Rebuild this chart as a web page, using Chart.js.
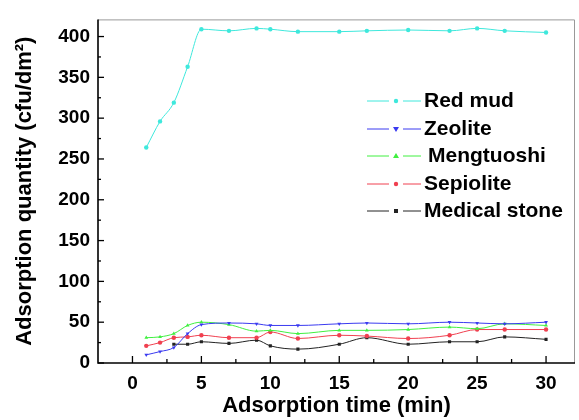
<!DOCTYPE html>
<html>
<head>
<meta charset="utf-8">
<script src="https://cdn.jsdelivr.net/npm/chart.js@4"></script>
<style>
  html, body { margin: 0; padding: 0; background: #fff; }
  #wrap { width: 579px; height: 420px; }
</style>
</head>
<body>
<div id="wrap"><canvas id="chart" width="579" height="420"></canvas></div>
<script>
// adsorption time (min)
const times = [1, 2, 3, 4, 5, 7, 9, 10, 12, 15, 17, 20, 23, 25, 27, 30];
const blackTimes = [3, 4, 5, 7, 9, 10, 12, 15, 17, 20, 23, 25, 27, 30];

const redMud = [264, 296, 319, 363, 409, 407, 410, 409, 406, 406, 407, 408, 407, 410, 407, 405];
const zeolite = [10, 14, 19, 36, 47, 49, 48, 46, 46, 48, 49, 48, 50, 49, 48, 50];
const mengtuoshi = [31, 32, 36, 46, 50, 47, 39, 40, 36, 40, 40, 41, 44, 42, 48, 46];
const sepiolite = [21, 25, 31, 32, 34, 31, 31, 38, 30, 34, 33, 30, 34, 41, 41, 41];
const medicalStone = [23, 23, 26, 24, 28, 21, 17, 23, 31, 23, 26, 26, 32, 29];

const xTicks = [0, 5, 10, 15, 20, 25, 30];
const yTicks = [0, 50, 100, 150, 200, 250, 300, 350, 400];

const names = ['Red mud', 'Zeolite', 'Mengtuoshi', 'Sepiolite', 'Medical stone'];
const colors = ['#3ee8dc', '#3a3af0', '#40f040', '#f04050', '#222222'];
const markers = ['circle', 'triangle', 'triangle', 'circle', 'rect'];

const toPts = (xs, ys) => xs.map((x, i) => ({ x: x, y: ys[i] }));
const seriesData = [
  toPts(times, redMud),
  toPts(times, zeolite),
  toPts(times, mengtuoshi),
  toPts(times, sepiolite),
  toPts(blackTimes, medicalStone),
];

const FONT = 'Liberation Sans, Arial, sans-serif';

// tick marks, frame and legend drawn by hand, like the original plot
const decor = {
  id: 'decor',
  afterDraw(chart) {
    const ctx = chart.ctx;
    const a = chart.chartArea;
    const xs = chart.scales.x, ys = chart.scales.y;
    ctx.save();
    ctx.strokeStyle = '#999';
    ctx.lineWidth = 1;
    ctx.beginPath();
    ctx.moveTo(a.left, a.top + 0.5);
    ctx.lineTo(a.right - 0.5, a.top + 0.5);
    ctx.lineTo(a.right - 0.5, a.bottom);
    ctx.stroke();
    ctx.strokeStyle = '#000';
    ctx.lineWidth = 1.6;
    ctx.beginPath();
    ctx.moveTo(a.left, a.top);
    ctx.lineTo(a.left, a.bottom);
    ctx.lineTo(a.right, a.bottom);
    ctx.stroke();
    // x ticks point up into the plot
    ctx.lineWidth = 1.3;
    for (let v = 0; v <= 30; v += 2.5) {
      const px = xs.getPixelForValue(v);
      const len = v % 5 === 0 ? 7 : 4;
      ctx.beginPath();
      ctx.moveTo(px, a.bottom);
      ctx.lineTo(px, a.bottom - len);
      ctx.stroke();
    }
    for (let v = 0; v <= 400; v += 25) {
      const py = ys.getPixelForValue(v);
      const len = v % 50 === 0 ? 6 : 3;
      ctx.beginPath();
      ctx.moveTo(a.left, py);
      ctx.lineTo(a.left + len, py);
      ctx.stroke();
    }
    // legend
    const ly = [101, 129, 156, 184, 211];
    ctx.font = 'bold 21px ' + FONT;
    ctx.textBaseline = 'middle';
    names.forEach((n, i) => {
      ctx.strokeStyle = colors[i];
      ctx.lineWidth = 1;
      ctx.beginPath();
      ctx.moveTo(367, ly[i]); ctx.lineTo(389, ly[i]);
      ctx.moveTo(403, ly[i]); ctx.lineTo(421, ly[i]);
      ctx.stroke();
      ctx.fillStyle = colors[i];
      ctx.beginPath();
      if (markers[i] === 'rect') {
        ctx.rect(394, ly[i] - 2, 4, 4);
      } else if (markers[i] === 'triangle') {
        if (i === 1) { ctx.moveTo(393, ly[i] - 2); ctx.lineTo(399, ly[i] - 2); ctx.lineTo(396, ly[i] + 3); }
        else { ctx.moveTo(393, ly[i] + 2); ctx.lineTo(399, ly[i] + 2); ctx.lineTo(396, ly[i] - 3); }
      } else {
        ctx.arc(396, ly[i], 2.2, 0, Math.PI * 2);
      }
      ctx.fill();
      ctx.fillStyle = '#000';
      ctx.fillText(n, i === 2 ? 428 : 424, ly[i]);
    });
    ctx.restore();
  }
};

new Chart(document.getElementById('chart'), {
  type: 'line',
  data: {
    datasets: seriesData.map((d, i) => ({
      label: names[i],
      data: d,
      borderColor: colors[i],
      backgroundColor: colors[i],
      borderWidth: 1,
      pointStyle: markers[i],
      pointRotation: i === 1 ? 180 : 0,
      pointRadius: 2.2,
      pointBorderWidth: 0,
      cubicInterpolationMode: 'monotone',
      fill: false,
    })),
  },
  options: {
    responsive: false,
    animation: false,
    layout: { padding: { top: 7, right: 4, left: 0, bottom: 0 } },
    plugins: { legend: { display: false }, tooltip: { enabled: false } },
    scales: {
      x: {
        type: 'linear',
        min: -2.5,
        max: 32.1,
        grid: { display: false, drawTicks: false },
        border: { display: false },
        afterBuildTicks: (s) => { s.ticks = xTicks.map(v => ({ value: v })); },
        afterFit: (s) => { s.height = 57; },
        ticks: {
          padding: 9,
          color: '#000',
          font: { family: FONT, size: 19, weight: 'bold' },
          maxRotation: 0,
        },
        title: {
          display: true,
          text: 'Adsorption time (min)',
          color: '#000',
          font: { family: FONT, size: 22, weight: 'bold' },
          padding: { top: 0, bottom: 1 },
        },
      },
      y: {
        min: 0,
        max: 421,
        grid: { display: false, drawTicks: false },
        border: { display: false },
        afterBuildTicks: (s) => { s.ticks = yTicks.map(v => ({ value: v })); },
        afterFit: (s) => { s.width = 98; },
        ticks: {
          padding: 8,
          color: '#000',
          font: { family: FONT, size: 19, weight: 'bold' },
        },
        title: {
          display: true,
          text: 'Adsorption quantity (cfu/dm\u00B2)',
          color: '#000',
          font: { family: FONT, size: 22, weight: 'bold' },
          padding: { top: 12, bottom: 0 },
        },
      },
    },
  },
  plugins: [decor],
});
</script>
</body>
</html>
